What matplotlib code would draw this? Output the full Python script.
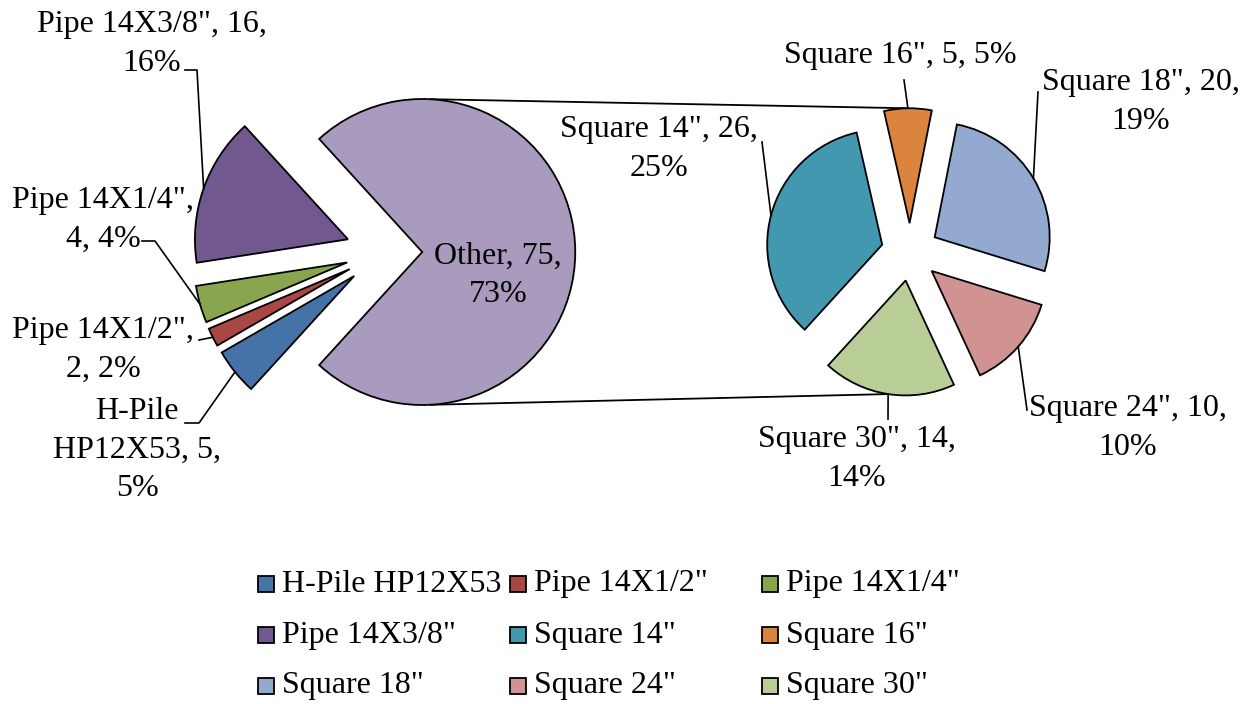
import numpy as np
import matplotlib.pyplot as plt
from matplotlib.patches import Rectangle

plt.rcParams['font.family'] = ['Liberation Serif', 'DejaVu Serif']

# data
main_names = ['H-Pile HP12X53', 'Pipe 14X1/2"', 'Pipe 14X1/4"', 'Pipe 14X3/8"', 'Other']
main_values = [5, 2, 4, 16, 75]
main_pct = ['5%', '2%', '4%', '16%', '73%']
sub_names = ['Square 14"', 'Square 16"', 'Square 18"', 'Square 24"', 'Square 30"']
sub_values = [26, 5, 20, 10, 14]
sub_pct = ['25%', '5%', '19%', '10%', '14%']

main_colors = ['#4572A7', '#AA4643', '#89A54E', '#71588F', '#A99BBD']
sub_colors = ['#4198AF', '#DB843D', '#93A9CF', '#D19392', '#B9CD96']

W, H = 1253, 704
FS = 23


def px(x, y):
    # picture pixel (origin top-left) -> data coords
    return x, H - y


fig = plt.figure(figsize=(W / 100, H / 100), dpi=100)
ax = fig.add_axes([0, 0, 1, 1])

main_c, main_r = px(384, 252), 153
sub_c, sub_r = px(910, 252), 115
start = 180 + 180 * sum(main_values[:-1]) / sum(main_values)
edge = dict(edgecolor='black', linewidth=1.3)

mw, _ = ax.pie(main_values, colors=main_colors, center=main_c, radius=main_r,
               explode=[0.25 * main_r] * len(main_values), startangle=start,
               counterclock=False, wedgeprops=edge)
sw, _ = ax.pie(sub_values, colors=sub_colors, center=sub_c, radius=sub_r,
               explode=[0.25 * sub_r] * len(sub_values), startangle=start,
               counterclock=False, wedgeprops=edge)


def arc_point(w, ang=None):
    if ang is None:
        ang = (w.theta1 + w.theta2) / 2
    a = np.radians(ang)
    return w.center[0] + w.r * np.cos(a), w.center[1] + w.r * np.sin(a)


# connector lines between the two pies
for a, w in [(87, sw[1]), (273, sw[4])]:
    p0 = arc_point(mw[-1], a)
    p1 = arc_point(w)
    ax.plot([p0[0], p1[0]], [p0[1], p1[1]], color='black', lw=1.3, zorder=0)

# data labels: text centre and leader start (picture pixels)
main_lab = [
    ('{n}\nHP12X53, {v},\n{p}', (137, 450), [(185, 423), (199, 423)]),
    ('{n},\n{v}, {p}', (103, 350), [(199, 340)]),
    ('{n},\n{v}, {p}', (103, 220), [(142, 241), (155, 241)]),
    ('{n}, {v},\n{p}', (152, 44), [(185, 70), (197, 70)]),
    ('{n}, {v},\n{p}', (498, 275), None),
]
sub_lab = [
    ('{n}, {v},\n{p}', (659, 149), [(762, 142)]),
    ('{n}, {v}, {p}', (900, 55), [(904, 80)]),
    ('{n}, {v},\n{p}', (1141, 102), [(1038, 92)]),
    ('{n}, {v},\n{p}', (1128, 428), [(1027, 410)]),
    ('{n}, {v},\n{p}', (857, 459), [(888, 419)]),
]

items = list(zip(main_names, main_values, main_pct, main_lab, mw)) + \
    list(zip(sub_names, sub_values, sub_pct, sub_lab, sw))
for name, val, pct, (tpl, pos, lead), w in items:
    n = name.split(' ')[0] if name.startswith('H-Pile') else name
    txt = tpl.format(n=n, v=val, p=pct)
    ax.text(*px(*pos), txt, ha='center', va='center', fontsize=FS,
            linespacing=1.42, zorder=5)
    if lead:
        pts = [px(*p) for p in lead] + [arc_point(w)]
        ax.plot([p[0] for p in pts], [p[1] for p in pts], color='black',
                lw=1.2, zorder=4)

# legend, three columns
leg_names = main_names[:-1] + sub_names
leg_colors = main_colors[:-1] + sub_colors
for i, (nm, col) in enumerate(zip(leg_names, leg_colors)):
    r, c = divmod(i, 3)
    x0, y0 = 258 + 252 * c, 584 + 51 * r
    bx, by = px(x0, y0 + 8)
    ax.add_patch(Rectangle((bx, by), 16, 16, facecolor=col, edgecolor='black',
                           lw=1.3, zorder=5))
    ax.text(*px(x0 + 24, y0), nm, ha='left', va='center', fontsize=FS)

ax.set_xlim(0, W)
ax.set_ylim(0, H)
ax.set_aspect('equal')
ax.axis('off')

fig.savefig('out.png', dpi=100)
